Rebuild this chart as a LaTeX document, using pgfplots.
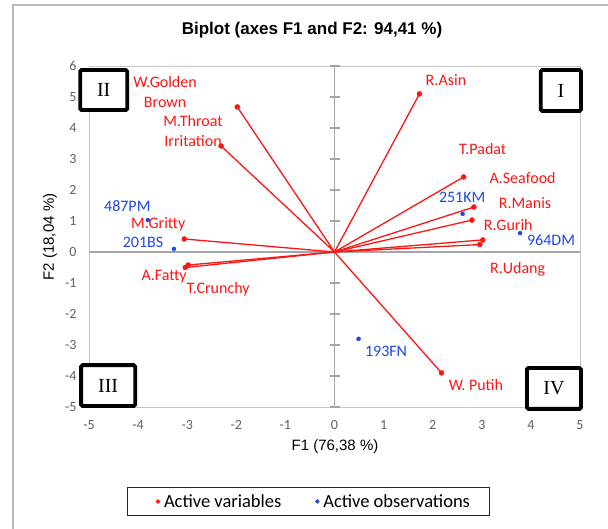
\documentclass[border=0pt]{standalone}
\usepackage{pgfplots}
\pgfplotsset{compat=1.18}
\usepackage{fontspec}
\setmainfont{Carlito}
\newfontfamily\arial{Liberation Sans}
\newfontfamily\timesf{Liberation Serif}
\definecolor{vred}{RGB}{255,20,20}
\definecolor{oblue}{RGB}{30,70,230}
\definecolor{tickgray}{RGB}{95,95,95}
\definecolor{axgray}{RGB}{165,165,165}
\begin{document}
\begin{tikzpicture}[x=1pt,y=1pt]
\path[use as bounding box] (0,0) rectangle (608,529);
\draw[gray!55, line width=1.2pt] (13,0) -- (13,524) -- (608,524);
\node[font=\arial\bfseries\fontsize{17}{20}\selectfont] at (312,499) {Biplot (axes F1 and F2: 94,41 \%)};
\node[font=\arial\fontsize{15}{18}\selectfont] at (335,82) {F1 (76,38 \%)};
\node[font=\arial\fontsize{15}{18}\selectfont, rotate=90] at (50,292) {F2 (18,04 \%)};
\begin{axis}[
  at={(89pt,122pt)}, anchor=south west,
  width=491pt, height=341pt, scale only axis,
  xmin=-5, xmax=5, ymin=-5, ymax=6,
  xtick={-5,-4,-3,-2,-1,0,1,2,3,4,5},
  xticklabels={-5,-4,-3,-2,-1,0,1,2,3,4,5},
  ytick={-5,-4,-3,-2,-1,0,1,2,3,4,5,6},
  yticklabels={-5,-4,-3,-2,-1,0,1,2,3,4,5,6},
  axis line style={draw=gray!45, line width=0.8pt},
  major tick length=0pt,
  tick label style={font=\fontsize{14}{16}\selectfont, text=tickgray},
  xticklabel style={anchor=base, yshift=-23pt},
  yticklabel style={anchor=east, xshift=-9pt},
  clip=false,
  legend columns=2,
  legend image code/.code={\path[draw=none] (0pt,0pt) -- (18pt,0pt); \draw[#1, only marks, mark size=1.8pt] plot coordinates {(14pt,0pt)};},
  legend style={at={(axis description cs:0.446,-0.277)}, anchor=center,
    draw=black!85, line width=0.8pt, font=\fontsize{18.5}{21}\selectfont,
    inner xsep=17pt, inner ysep=5pt,
    /tikz/every even column/.append style={column sep=20pt}},
]
% central axes
\draw[axgray, line width=1.5pt] (axis cs:0,-5) -- (axis cs:0,6);
\draw[axgray, line width=1.5pt] (axis cs:-5,0) -- (axis cs:5,0);
\pgfplotsinvokeforeach{-5,-4,-3,-2,-1,1,2,3,4,5,6}{
  \draw[axgray, line width=1.2pt] ([xshift=-5pt]axis cs:0,#1) -- ([xshift=5pt]axis cs:0,#1);
}
% variable vectors
\addplot[vred, line width=1.3pt, forget plot] coordinates {(0,0) (-1.98,4.68)};
\addplot[vred, line width=1.3pt, forget plot] coordinates {(0,0) (-2.31,3.42)};
\addplot[vred, line width=1.3pt, forget plot] coordinates {(0,0) (-3.06,0.42)};
\addplot[vred, line width=1.3pt, forget plot] coordinates {(0,0) (-2.98,-0.42)};
\addplot[vred, line width=1.3pt, forget plot] coordinates {(0,0) (-3.04,-0.50)};
\addplot[vred, line width=1.3pt, forget plot] coordinates {(0,0) (1.73,5.10)};
\addplot[vred, line width=1.3pt, forget plot] coordinates {(0,0) (2.63,2.42)};
\addplot[vred, line width=1.3pt, forget plot] coordinates {(0,0) (2.84,1.45)};
\addplot[vred, line width=1.3pt, forget plot] coordinates {(0,0) (2.80,1.03)};
\addplot[vred, line width=1.3pt, forget plot] coordinates {(0,0) (3.02,0.39)};
\addplot[vred, line width=1.3pt, forget plot] coordinates {(0,0) (2.96,0.24)};
\addplot[vred, line width=1.3pt, forget plot] coordinates {(0,0) (2.18,-3.90)};
% points
\addplot[only marks, mark=*, mark size=2.5pt, vred] coordinates {
 (-1.98,4.68) (-2.31,3.42) (-3.06,0.42) (-2.98,-0.42) (-3.04,-0.50)
 (1.73,5.10) (2.63,2.42) (2.84,1.45) (2.80,1.03) (3.02,0.39) (2.96,0.24) (2.18,-3.90)};
\addlegendentry{Active variables}
\addplot[only marks, mark=*, mark size=2pt, oblue] coordinates {
 (-3.80,1.03) (-3.27,0.10) (2.61,1.23) (3.78,0.61) (0.49,-2.80)};
\addlegendentry{Active observations}
% labels
\begin{scope}[every node/.style={font=\fontsize{16}{18}\selectfont, text=vred}]
\node at (axis cs:-3.45,5.48) {W.Golden};
\node at (axis cs:-3.45,4.84) {Brown};
\node at (axis cs:-2.88,4.23) {M.Throat};
\node at (axis cs:-2.88,3.58) {Irritation};
\node at (axis cs:-3.59,0.90) {M.Gritty};
\node at (axis cs:-3.47,-0.81) {A.Fatty};
\node at (axis cs:-2.37,-1.19) {T.Crunchy};
\node at (axis cs:2.27,5.55) {R.Asin};
\node at (axis cs:3.02,3.32) {T.Padat};
\node at (axis cs:3.83,2.39) {A.Seafood};
\node at (axis cs:3.88,1.58) {R.Manis};
\node at (axis cs:3.54,0.87) {R.Gurih};
\node at (axis cs:3.73,-0.55) {R.Udang};
\node at (axis cs:2.88,-4.29) {W. Putih};
\end{scope}
\begin{scope}[every node/.style={font=\fontsize{16}{18}\selectfont, text=oblue}]
\node at (axis cs:-4.22,1.48) {487PM};
\node at (axis cs:-3.90,0.32) {201BS};
\node at (axis cs:2.60,1.77) {251KM};
\node at (axis cs:4.41,0.39) {964DM};
\node at (axis cs:1.05,-3.19) {193FN};
\end{scope}
% quadrant boxes
\begin{scope}[every node/.style={font=\timesf\fontsize{20}{22}\selectfont}]
\draw[black, line width=3.8pt, rounded corners=1.5pt, fill=white] (axis cs:-5.18,5.87) rectangle node {II} (axis cs:-4.22,4.58);
\draw[black, line width=3.8pt, rounded corners=1.5pt, fill=white] (axis cs:4.20,5.87) rectangle node {I} (axis cs:5.02,4.55);
\draw[black, line width=3.8pt, rounded corners=1.5pt, fill=white] (axis cs:-5.16,-3.65) rectangle node {III} (axis cs:-4.06,-4.97);
\draw[black, line width=3.8pt, rounded corners=1.5pt, fill=white] (axis cs:3.92,-3.74) rectangle node {IV} (axis cs:5.02,-5.06);
\end{scope}
\end{axis}
\end{tikzpicture}
\end{document}
